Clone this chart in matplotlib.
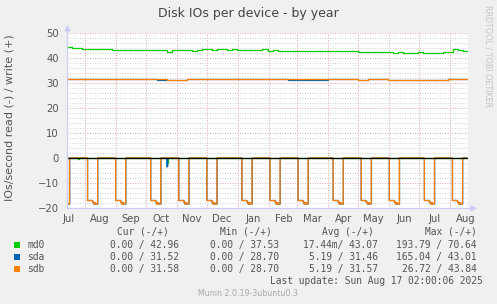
from datetime import datetime, timedelta

import numpy as np
import matplotlib
matplotlib.use("Agg")
from matplotlib import pyplot as plt
import matplotlib.dates as mdates
from matplotlib.patches import Rectangle

# ================================================================
# DATA
# ================================================================
START = datetime(2024, 7, 14, 12)
LAST_UPDATE = datetime(2025, 8, 17, 2, 0, 6)
END = datetime(2025, 8, 18, 12)

# write (+) series, one value every BIN days from START
MD0_BIN = 5
MD0_WRITE = [
    44.5, 44.1, 43.9, 43.8, 43.8, 43.7, 43.7, 43.5, 43.5, 43.4,
    43.3, 43.2, 43.3, 43.2, 43.2, 43.3, 43.2, 43.1, 43.2, 43.2,
    42.4, 43.1, 43.1, 43.2, 43.1, 42.9, 43.4, 43.5, 43.5, 43.4,
    43.5, 43.5, 43.4, 43.5, 43.4, 43.2, 43.3, 43.2, 43.2, 43.6,
    43.0, 43.1, 43.0, 43.0, 42.9, 43.0, 43.0, 42.9, 43.0, 42.9,
    42.9, 42.9, 42.8, 42.8, 42.8, 42.7, 42.8, 42.8, 42.3, 42.6,
    42.6, 42.5, 42.6, 42.5, 42.5, 42.2, 42.3, 42.2, 42.2, 42.2,
    42.3, 42.2, 42.2, 42.1, 42.2, 42.3, 42.4, 43.8, 43.1, 42.96,
]
DISK_BIN = 10
SDA_WRITE = [
    31.7, 31.7, 31.7, 31.7, 31.6, 31.7, 31.7, 31.7, 31.7, 31.4,
    31.2, 31.2, 31.5, 31.7, 31.7, 31.7, 31.6, 31.7, 31.5, 31.5,
    31.6, 31.6, 31.4, 31.3, 31.3, 31.3, 31.5, 31.5, 31.5, 31.4,
    31.5, 31.5, 31.4, 31.4, 31.4, 31.4, 31.2, 31.2, 31.7, 31.6,
]
SDB_WRITE = [
    31.7, 31.7, 31.7, 31.7, 31.6, 31.7, 31.7, 31.7, 31.7, 31.6,
    31.4, 31.4, 31.5, 31.7, 31.7, 31.7, 31.6, 31.7, 31.7, 31.7,
    31.6, 31.6, 31.6, 31.5, 31.5, 31.5, 31.5, 31.5, 31.5, 31.4,
    31.5, 31.5, 31.4, 31.4, 31.4, 31.4, 31.2, 31.3, 31.7, 31.6,
]

# read (-) series: monthly check dips (first Sunday of each month)
DIP_STARTS = [
    "2024-07-07", "2024-08-04", "2024-09-01", "2024-10-06", "2024-11-03",
    "2024-12-01", "2025-01-05", "2025-02-02", "2025-03-02", "2025-04-06",
    "2025-05-04", "2025-06-01", "2025-07-06", "2025-08-03",
]
DIP_OFFSETS_SDB = [0, 5, 6, 7, 8, 10]
DIP_VALUES_SDB = [-17.0, -17.6, -18.4, -17.9, -18.4, 0.0]
DIP_OFFSETS_SDA = [0, 5, 6, 7, 8, 10.2]
DIP_VALUES_SDA = [-17.0, -17.6, -18.4, -17.9, -18.4, 0.0]

# short read spikes (date, value)
MD0_SPIKES = [("2024-07-25", -0.5), ("2024-10-22", -2.0)]
SDA_SPIKES = [("2024-10-22", -3.5)]

COLORS = {"md0": "#00CC00", "sda": "#0066B3", "sdb": "#FF8000"}

LEGEND_NAMES = ["md0", "sda", "sdb"]
LEGEND_HEADERS = ["Cur (-/+)", "Min (-/+)", "Avg (-/+)", "Max (-/+)"]
LEGEND_VALUES = [
    ["0.00 / 42.96", "0.00 / 37.53", "17.44m/ 43.07", "193.79 / 70.64"],
    ["0.00 / 31.52", "0.00 / 28.70", "5.19 / 31.46", "165.04 / 43.01"],
    ["0.00 / 31.58", "0.00 / 28.70", "5.19 / 31.57", "26.72 / 43.84"],
]

W, H = 497, 304
TEXT = "#555555"


# ================================================================
# FUNCTIONS
# ================================================================
def fig_xy(x, y):
    return x / W, 1 - y / H


def write_series(values, bin_days):
    xs = [START + timedelta(days=i * bin_days) for i in range(len(values))]
    xs.append(LAST_UPDATE)
    ys = list(values) + [values[-1]]
    return mdates.date2num(xs), np.asarray(ys)


def read_series(starts, offsets, values, spikes=()):
    pts = [(START - timedelta(days=30), 0.0)]
    for s in starts:
        d0 = datetime.fromisoformat(s)
        for off, v in zip(offsets, values):
            pts.append((d0 + timedelta(days=off), v))
    for s, v in spikes:
        d0 = datetime.fromisoformat(s)
        pts.append((d0, v))
        pts.append((d0 + timedelta(days=1), 0.0))
    pts.append((LAST_UPDATE, 0.0))
    pts.sort(key=lambda p: p[0])
    return mdates.date2num([p[0] for p in pts]), np.asarray([p[1] for p in pts])


# ================================================================
# MAIN
# ================================================================
fig = plt.figure(figsize=(W / 100, H / 100), dpi=100, facecolor="#F0F0F0")
ax = fig.add_axes([67 / W, 96 / H, 401 / W, 175 / H], facecolor="white")

x0, x1 = mdates.date2num([START, END])
ax.set_xlim(x0, x1)
ax.set_ylim(-20, 50)

# grid
for v in range(-20, 51, 2):
    major = v % 10 == 0
    ax.axhline(v, color="#EBAAAA" if major else "#D4D4D4", lw=0.72,
               dashes=(1, 1.5), zorder=1)
month = datetime(2024, 8, 1)
while month < END:
    ax.axvline(mdates.date2num(month), color="#EBAAAA", lw=0.72,
               dashes=(1, 1.5), zorder=1)
    month = datetime(month.year + month.month // 12, month.month % 12 + 1, 1)

# series
lw = 0.9
for name, vals, binsz in [("md0", MD0_WRITE, MD0_BIN), ("sda", SDA_WRITE, DISK_BIN),
                          ("sdb", SDB_WRITE, DISK_BIN)]:
    xs, ys = write_series(vals, binsz)
    ax.step(xs, ys, where="post", color=COLORS[name], lw=lw, zorder=3)

xs, ys = read_series([], [], [], MD0_SPIKES)
ax.step(xs, ys, where="post", color=COLORS["md0"], lw=lw, zorder=3)
xs, ys = read_series(DIP_STARTS, DIP_OFFSETS_SDA, DIP_VALUES_SDA, SDA_SPIKES)
ax.step(xs, ys, where="post", color=COLORS["sda"], lw=lw, zorder=3, snap=False)
xs, ys = read_series(DIP_STARTS, DIP_OFFSETS_SDB, DIP_VALUES_SDB)
ax.step(xs, ys, where="post", color=COLORS["sdb"], lw=lw, zorder=3, snap=False)

ax.plot([x0, mdates.date2num(LAST_UPDATE)], [0, 0], color="black", lw=0.9, zorder=4)

# axes
for sp in ax.spines.values():
    sp.set_visible(False)
axis_col = "#CCCCF2"
ax.plot([0, 0], [0, 1.03], transform=ax.transAxes, color=axis_col, lw=0.9,
        clip_on=False, zorder=5)
ax.plot([0, 1.012], [0, 0], transform=ax.transAxes, color=axis_col, lw=0.9,
        clip_on=False, zorder=5)
ax.plot([0], [1.03], marker="^", ms=3.5, color=axis_col, transform=ax.transAxes,
        clip_on=False, zorder=5)
ax.plot([1.012], [0], marker=">", ms=3.5, color=axis_col, transform=ax.transAxes,
        clip_on=False, zorder=5)

ax.set_yticks(range(-20, 51, 10))
ax.tick_params(axis="y", length=0, pad=6, labelsize=7.2, labelcolor=TEXT)
label_months = []
m = datetime(2024, 7, 16)
while m < END:
    label_months.append(m)
    m = datetime(m.year + m.month // 12, m.month % 12 + 1, 16)
ax.set_xticks(mdates.date2num(label_months))
ax.set_xticklabels([d.strftime("%b") for d in label_months])
ax.tick_params(axis="x", length=0, pad=4, labelsize=7.2, labelcolor=TEXT)

# texts
fig.text(*fig_xy(248, 13), "Disk IOs per device - by year", ha="center", va="center",
         fontsize=9, color="#444444")
fig.text(*fig_xy(10, 118), "IOs/second read (-) / write (+)", rotation=90,
         ha="center", va="center", fontsize=8, color=TEXT)
fig.text(*fig_xy(488, 56), "RRDTOOL / TOBI OETIKER", rotation=270,
         ha="center", va="center", fontsize=5.8, color="#C4C4C4")

mono = dict(family="DejaVu Sans Mono", fontsize=6.9, color=TEXT, va="center")
header_right = [169, 272, 374, 477]
value_right = [179, 279, 378, 477]
for hdr, xr in zip(LEGEND_HEADERS, header_right):
    fig.text(*fig_xy(xr, 232), hdr, ha="right", **mono)
for i, name in enumerate(LEGEND_NAMES):
    y = 245 + 12 * i
    fx, fy = fig_xy(14, y + 3)
    fig.add_artist(Rectangle((fx, fy), 6 / W, 6 / H, transform=fig.transFigure,
                             facecolor=COLORS[name], edgecolor="none"))
    fig.text(*fig_xy(27, y), name, ha="left", **mono)
    for val, xr in zip(LEGEND_VALUES[i], value_right):
        fig.text(*fig_xy(xr, y), val, ha="right", **mono)
fig.text(*fig_xy(483, 281), "Last update: Sun Aug 17 02:00:06 2025", ha="right", **mono)
fig.text(*fig_xy(248, 293), "Munin 2.0.19-3ubuntu0.3", ha="center", va="center",
         fontsize=5.7, color="#AAAAAA")

fig.savefig("out.png", dpi=100, facecolor=fig.get_facecolor())
